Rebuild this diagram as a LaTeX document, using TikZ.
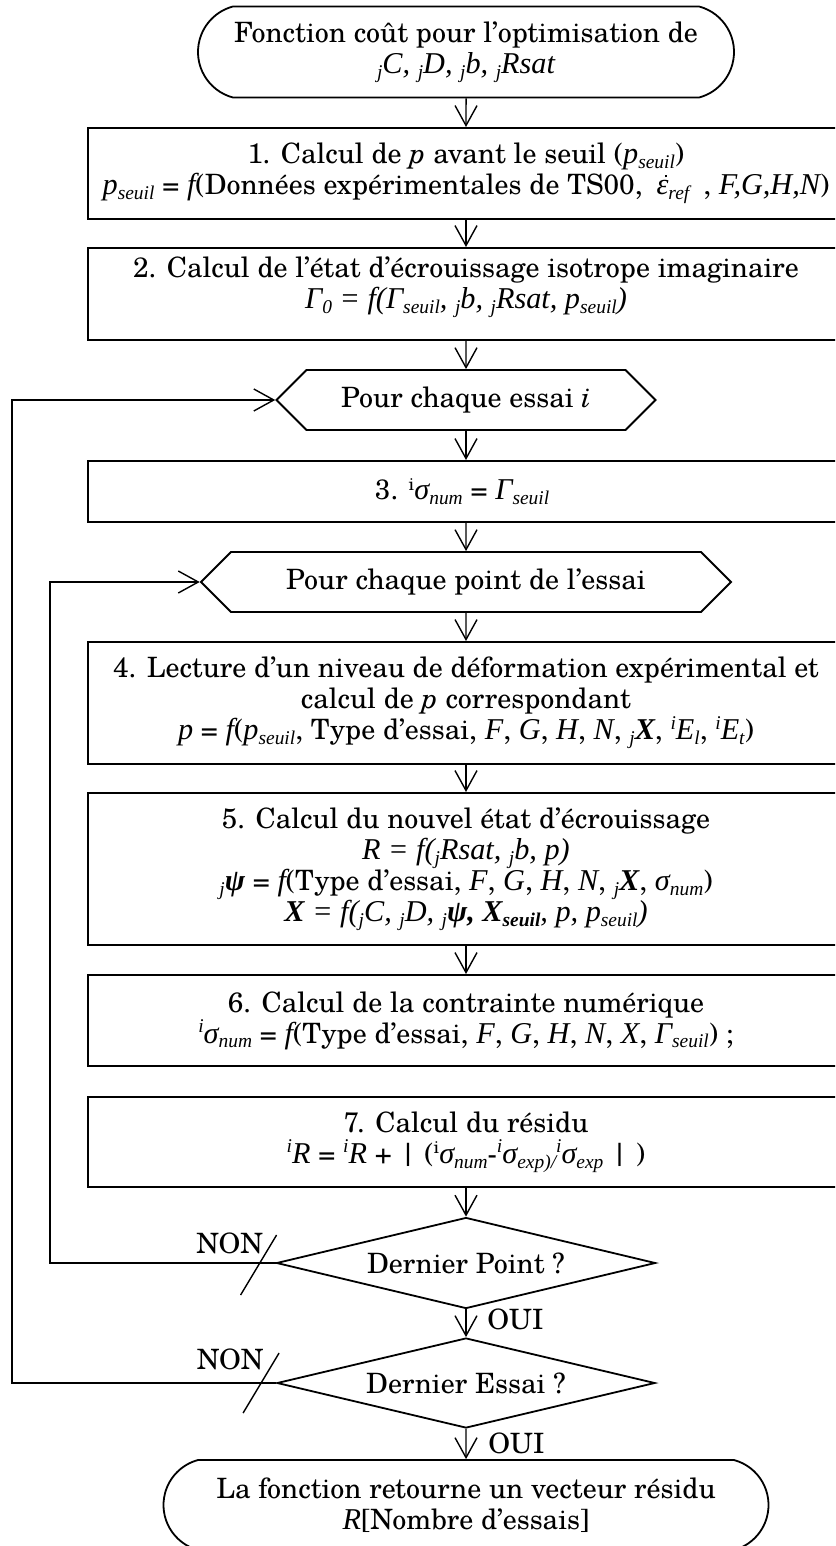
\documentclass[tikz,border=0pt]{standalone}
\usepackage{fontspec}
\setmainfont{texgyreschola}[Extension=.otf, UprightFont=*-regular, ItalicFont=*-italic, BoldFont=*-bold, BoldItalicFont=*-bolditalic]
\newfontfamily\tmfont{Liberation Serif}[Scale=1.08]
\usepackage{tikz}
\usetikzlibrary{shapes.geometric, shapes.misc, shapes.symbols, arrows.meta}
\newcommand{\tmi}[1]{{\tmfont\itshape #1}}
\newcommand{\tbi}[1]{{\tmfont\bfseries\itshape #1}}
\newcommand{\sbs}[1]{\raisebox{-0.35ex}{\fontsize{9}{9}\selectfont #1}}
\newcommand{\sps}[1]{\raisebox{0.75ex}{\fontsize{9}{9}\selectfont #1}}
\newcommand{\dotover}[1]{\leavevmode\hbox{\ooalign{#1\cr\hidewidth\kern0.22em\raisebox{1.25ex}{\rule{1.3pt}{1.3pt}}\hidewidth\cr}}}

\begin{document}
\begin{tikzpicture}[x=0.5pt, y=-0.5pt, font=\fontsize{14}{15.5}\selectfont,
    stepbox/.style={draw, line width=1pt, minimum width=378pt, align=center, inner sep=0pt},
    endbox/.style={draw, line width=0.9pt, rounded rectangle, rounded rectangle arc length=150, align=center, inner sep=0pt},
    loopbox/.style={draw, line width=0.9pt, signal, signal to=east and west, signal pointer angle=90, minimum height=30pt, inner sep=0pt},
    testbox/.style={draw, line width=0.9pt, diamond, aspect=4.17, inner sep=0pt},
    flow/.style={line width=0.7pt, -{Straight Barb[length=10pt,width=11pt]}},
    cut/.style={line width=0.7pt},
    lbl/.style={inner sep=0pt}]
    \useasboundingbox (0,0) rectangle (835,1546);
    \clip (0,0) rectangle (835,1546);

    \node[endbox, minimum width=268pt, minimum height=45.5pt] (t0) at (466,52) {
        Fonction coût pour l’optimisation de\\
        \tmi{\sbs{j}C, \sbs{j}D, \sbs{j}b, \sbs{j}Rsat}
    };
    \node[stepbox, minimum height=45.5pt] (b1) at (466,173.5) {
        1. Calcul de \textit{p} avant le seuil (\tmi{p\sbs{seuil}})\\
        \tmi{p\sbs{seuil}} = \tmi{f}(Données expérimentales de TS00,\enspace\tmi{\dotover{ε}\sbs{ref}}\enspace, \tmi{F,G,H,N})
    };
    \node[stepbox, minimum height=46pt] (b2) at (466,294) {
        2. Calcul de l’état d’écrouissage isotrope imaginaire\\
        \tmi{Γ\sbs{0} = f(Γ\sbs{seuil}, \sbs{j}b, \sbs{j}Rsat, p\sbs{seuil})}\\[-4pt]\mbox{}
    };
    \node[loopbox, minimum width=189.5pt] (h1) at (466,400) {Pour chaque essai \textit{i}};
    \node[stepbox, minimum height=30.5pt] (b3) at (466,491.5) {
        3. \sps{i}\tmi{σ\sbs{num}} = \tmi{Γ\sbs{seuil}}
    };
    \node[loopbox, minimum width=265pt] (h2) at (466,582) {Pour chaque point de l’essai};
    \node[stepbox, minimum height=61pt] (b4) at (466,703) {
        4. Lecture d’un niveau de déformation expérimental et\\
        calcul de \textit{p} correspondant\\
        \tmi{p} = \tmi{f}(\tmi{p\sbs{seuil}}, Type d’essai, \tmi{F}, \tmi{G}, \tmi{H}, \tmi{N}, \tmi{\sbs{j}}\tbi{X}, \tmi{\sps{i}E\sbs{l}}, \tmi{\sps{i}E\sbs{t}})
    };
    \node[stepbox, minimum height=76pt] (b5) at (466,869) {
        5. Calcul du nouvel état d’écrouissage\\
        \tmi{R = f(\sbs{j}Rsat, \sbs{j}b, p)}\\
        \tmi{\sbs{j}}\tbi{ψ} = \tmi{f}(Type d’essai, \tmi{F}, \tmi{G}, \tmi{H}, \tmi{N}, \tmi{\sbs{j}}\tbi{X}, \tmi{σ\sbs{num}})\\
        \tbi{X} \tmi{= f(\sbs{j}C, \sbs{j}D, \sbs{j}}\tbi{ψ, X\sbs{seuil}}\tmi{, p, p\sbs{seuil})}
    };
    \node[stepbox, minimum height=45.5pt] (b6) at (466,1020.5) {
        6. Calcul de la contrainte numérique\\
        \tmi{\sps{i}σ\sbs{num}} = \tmi{f}(Type d’essai, \tmi{F}, \tmi{G}, \tmi{H}, \tmi{N}, \tmi{X}, \tmi{Γ\sbs{seuil}}) ;
    };
    \node[stepbox, minimum height=45pt] (b7) at (466,1142) {
        7. Calcul du résidu\\
        \tmi{\sps{i}R} = \tmi{\sps{i}R} + | (\sps{i}\tmi{σ\sbs{num}}-\tmi{\sps{i}σ\sbs{exp)/}\sps{i}σ\sbs{exp}} | )
    };
    \node[testbox, minimum width=189.5pt, minimum height=45.5pt] (d1) at (466,1263) {Dernier Point ?};
    \node[testbox, minimum width=189pt, minimum height=45pt] (d2) at (466,1383) {Dernier Essai ?};
    \node[endbox, minimum width=302.5pt, minimum height=45pt] (t1) at (466,1505) {
        La fonction retourne un vecteur résidu\\
        \tmi{R}[Nombre d’essais]
    };

    \draw[flow] (t0) -- (b1);
    \draw[flow] (b1) -- (b2);
    \draw[flow] (b2) -- (h1);
    \draw[flow] (h1) -- (b3);
    \draw[flow] (b3) -- (h2);
    \draw[flow] (h2) -- (b4);
    \draw[flow] (b4) -- (b5);
    \draw[flow] (b5) -- (b6);
    \draw[flow] (b7) -- (d1);
    \draw[flow] (d1) -- (d2);
    \draw[flow] (d2) -- (t1);

    \coordinate (outer) at (12,1383);
    \coordinate (inner) at (50,1263);
    \draw[flow] (d1.west) -- (inner) |- (h2.west);
    \draw[flow] (d2.west) -- (outer) |- (h1.west);

    \draw[cut] ([shift={(-35,32)}]d1.west) -- ([shift={(1,-28)}]d1.west);
    \draw[cut] ([shift={(-33,30)}]d2.west) -- ([shift={(3,-30)}]d2.west);
    \node[lbl, anchor=east] (non1) at ([shift={(-12,-20)}]d1.west) {NON};
    \node[lbl, anchor=east] (non2) at ([shift={(-12,-24)}]d2.west) {NON};
    \node[lbl, anchor=west] (oui1) at ([shift={(21,10)}]d1.south) {OUI};
    \node[lbl, anchor=west] (oui2) at ([shift={(22,14)}]d2.south) {OUI};
\end{tikzpicture}
\end{document}
